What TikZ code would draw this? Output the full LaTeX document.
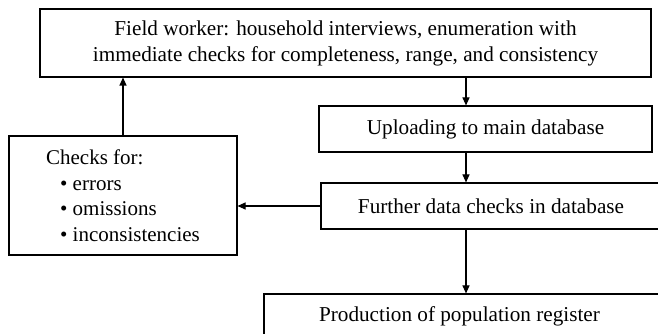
\documentclass[tikz,border=0pt]{standalone}
\usepackage{fontspec}
\setmainfont{Liberation Serif}
\usetikzlibrary{positioning,arrows.meta}

\begin{document}
\begin{tikzpicture}[x=1pt, y=1pt,
        stage/.style={rectangle, draw, line width=1.1pt, inner sep=0pt, align=center,
            font=\fontsize{21.2}{26}\selectfont},
        checklist/.style={rectangle, draw, line width=1.1pt, inner sep=0pt, align=left,
            font=\fontsize{21}{25.5}\selectfont},
        arrow/.style={-{Triangle[length=8pt,width=7pt]}, line width=1.1pt}
    ]
        \useasboundingbox (0,0) rectangle (658,334);
        \clip (0,0) rectangle (658,334);

        \node[stage, minimum width=611, minimum height=68] (field) at (345.5,291)
            {Field worker: household interviews, enumeration with\\
             immediate checks for completeness, range, and consistency};
        \node[stage, minimum width=333, minimum height=46] (upload) at (485.5,205)
            {Uploading to main database};
        \node[stage, minimum width=340, minimum height=46] (further) at (491,128)
            {Further data checks in database};
        \node[stage, minimum width=404, minimum height=44] (register) at (466,18)
            {\hspace*{-13pt}Production of population register};
        \node[checklist, minimum width=228, minimum height=119] (checks) at (123,138.5)
            {Checks for:\\
             \hspace*{14pt}\textbullet\ errors\\
             \hspace*{14pt}\textbullet\ omissions\\
             \hspace*{14pt}\textbullet\ inconsistencies};

        \draw[arrow] (field.south -| register.north) -- (upload.north -| register.north);
        \draw[arrow] (upload.south -| register.north) -- (further.north -| register.north);
        \draw[arrow] (further.south -| register.north) -- (register.north);
        \draw[arrow] (further.west) -- (further.west -| checks.east);
        \draw[arrow] (checks.north) -- (checks.north |- field.south);
\end{tikzpicture}
\end{document}
